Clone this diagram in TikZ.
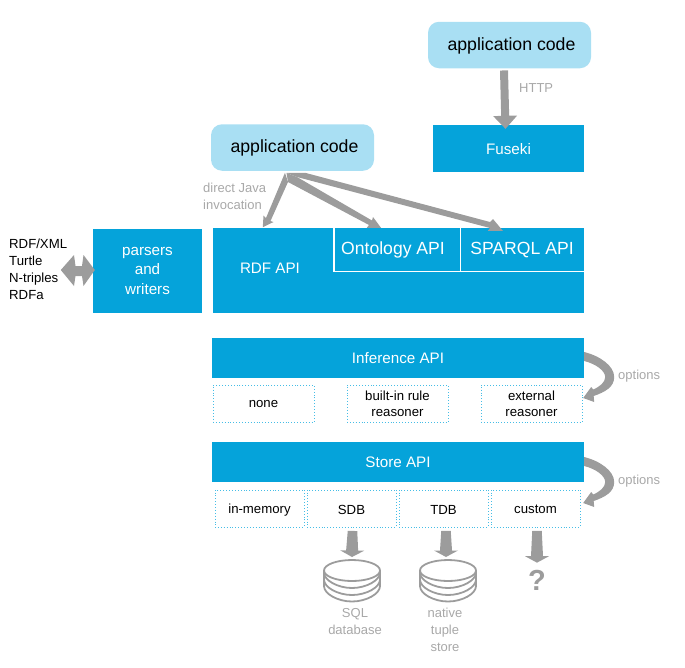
\documentclass[tikz,border=0pt]{standalone}
\usepackage{fontspec}
\setmainfont{Liberation Sans}
\usetikzlibrary{calc}
\definecolor{apiblue}{HTML}{05A3DA}
\definecolor{applight}{HTML}{A9DFF3}
\definecolor{arrowgray}{HTML}{9C9C9C}
\definecolor{labelgray}{HTML}{A8A8A8}
\definecolor{dotblue}{HTML}{45BDE6}
\newcommand{\fsz}[2]{\fontsize{#1}{#2}\selectfont}
\newcommand{\nudge}[2]{\raisebox{-#1}[\height][\depth]{#2}}
\newcommand{\lines}[1]{\begin{tabular}{@{}c@{}}#1\end{tabular}}
% start, end, start width, end width, head width, head length
\newcommand{\taperarrow}[6]{%
  \fill[arrowgray] let \p1=#1, \p2=#2, \n1={atan2(\y2-\y1,\x2-\x1)} in
    ($(\p1)+(\n1+90:#3/2*1pt)$) --
    ($(\p2)+(\n1+180:#6*1pt)+(\n1+90:#4/2*1pt)$) --
    ($(\p2)+(\n1+180:#6*1pt)+(\n1+90:#5/2*1pt)$) --
    (\p2) --
    ($(\p2)+(\n1+180:#6*1pt)+(\n1-90:#5/2*1pt)$) --
    ($(\p2)+(\n1+180:#6*1pt)+(\n1-90:#4/2*1pt)$) --
    ($(\p1)+(\n1-90:#3/2*1pt)$) -- cycle;}
% crescent "options" arrow leaving the bar and returning to the option row
\newcommand{\optarrow}[1]{%
  \begin{scope}[shift={#1}]
  \fill[arrowgray] (0,0) .. controls (16,4) and (30,14) .. (30,25)
    .. controls (30,35) and (21,40) .. (9.5,44) -- (10,50) -- (-1,46) -- (7,35) -- (9,37.5)
    .. controls (16,34.5) and (21,30) .. (21,25) .. controls (21,19) and (12,12) .. (0,9) -- cycle;
  \end{scope}}
\tikzset{
  apibox/.style={fill=apiblue,text=white,inner sep=0pt,align=center,font=\fsz{15.2}{19.5}},
  appbox/.style={fill=applight,text=black,rounded corners=11pt,inner sep=0pt,minimum width=163pt,minimum height=46.5pt,font=\fsz{17.7}{21}},
  optbox/.style={draw=dotblue,dotted,line width=0.9pt,inner sep=0pt,align=center,text=black,minimum height=37pt,font=\fsz{13.2}{16.5}},
  graylabel/.style={text=labelgray,inner sep=0pt,align=center,font=\fsz{13}{17}},
  listlabel/.style={text=black,inner sep=0pt,align=left,font=\fsz{13.2}{17}},
  disk/.style={draw=arrowgray,line width=1.8pt},
}
\begin{document}
\begin{tikzpicture}[x=1pt,y=-1pt]
\useasboundingbox (0,0) rectangle (685,667);

% boxes
\node[appbox] (appa) at (509.5,45) {\nudge{1pt}{\hspace*{4pt}application code}};
\node[appbox] (appb) at (292.5,147.5) {\nudge{0.5pt}{\hspace*{4pt}application code}};
\node[apibox,minimum width=151pt,minimum height=47pt] (fuseki) at (508.5,148.5) {\nudge{1pt}{Fuseki}};
\node[apibox,minimum width=109pt,minimum height=84pt] (parsers) at (147.5,270.5) {parsers\\and\\writers};
\node[apibox,minimum width=371pt,minimum height=85pt] (rdf) at (398.5,270.5) {};
\node[apibox,minimum width=126pt,minimum height=43pt,font=\fsz{17.6}{21}] (onto) at (397,249.5) {\hspace*{-8pt}Ontology API};
\node[apibox,minimum width=124pt,minimum height=43pt,font=\fsz{17.6}{21}] (sparql) at (522,249.5) {\nudge{1pt}{SPARQL API}};
\node[text=white,inner sep=0pt,font=\fsz{15.2}{19}] (rdflabel) at (270,268) {RDF API};
\draw[white,line width=1.4pt] (onto.north west) -- (onto.south west) -- (sparql.south east);
\draw[white,line width=1.4pt] (onto.north east) -- (onto.south east);

\node[apibox,minimum width=372pt,minimum height=40pt] (inf) at (398,358) {Inference API};
\node[optbox,minimum width=101pt] (none) at (263.5,403.5) {\nudge{1pt}{none}};
\node[optbox,minimum width=101pt] (rule) at (397.5,403.5) {\nudge{1.5pt}{\lines{built-in rule\\reasoner}}};
\node[optbox,minimum width=101pt] (ext) at (531.5,403.5) {\nudge{1.5pt}{\lines{external\\reasoner}}};

\node[apibox,minimum width=372pt,minimum height=40pt] (store) at (398,462) {Store API};
\node[optbox,minimum width=89pt] (mem) at (259.5,508.5) {\nudge{1.5pt}{in-memory}};
\node[optbox,minimum width=89pt] (sdb) at (351.5,508.5) {\nudge{1pt}{SDB}};
\node[optbox,minimum width=89pt] (tdb) at (443.5,508.5) {\nudge{1pt}{TDB}};
\node[optbox,minimum width=89pt] (custom) at (535.5,508.5) {\nudge{1pt}{custom}};

% databases
\foreach \nm/\cx in {sqldb/352,tupledb/448}{
  \coordinate (\nm) at (\cx,570.5);
  \draw[disk] (\nm) ellipse [x radius=28pt,y radius=10.5pt];
  \foreach \off in {7,14,20.5}{
    \draw[disk] ($(\nm)+(-28,\off-5)$) .. controls ($(\nm)+(-28,\off+3)$) and ($(\nm)+(-14,\off+10.5)$) .. ($(\nm)+(0,\off+10.5)$)
      .. controls ($(\nm)+(14,\off+10.5)$) and ($(\nm)+(28,\off+3)$) .. ($(\nm)+(28,\off-5)$);
  }
  \draw[disk] ($(\nm)+(-28,0)$) -- ($(\nm)+(-28,16)$);
  \draw[disk] ($(\nm)+(28,0)$) -- ($(\nm)+(28,16)$);
}

% labels
\node[graylabel,anchor=west] (http) at (519,88.5) {HTTP};
\node[graylabel,align=left,anchor=north west] (java) at (203,183) {direct Java\\invocation};
\node[listlabel,anchor=north west] (formats) at (9,239) {RDF/XML\\Turtle\\N-triples\\RDFa};
\node[graylabel,anchor=west] (optinf) at (618,376.5) {options};
\node[graylabel,anchor=west] (optstore) at (618,481) {options};
\node[graylabel,anchor=north] (sqllabel) at (355,608) {SQL\\database};
\node[graylabel,anchor=north] (tuplelabel) at (445,608) {native\\tuple\\store};
\node[text=arrowgray,inner sep=0pt,font=\bfseries\fsz{29}{29}] (unknown) at (537,580) {?};

% arrows
\taperarrow{($(appa.south)+(-5.5,2)$)}{($(fuseki.north)+(-3,4)$)}{8}{8}{24}{13}
% fan from the second application box to the three APIs
\fill[arrowgray] ($(appb.south)+(-7.5,1.8)$) -- (288,182) -- (270.5,221) -- (273.5,222)
  -- ($(rdf.north west)+(50,-0.5)$) -- (263.5,215.5) -- (266,218) -- cycle;
\fill[arrowgray] ($(appb.south)+(-6,2)$) -- (297,177) -- (372,220.5) -- (373,217)
  -- (onto.north west -| 381,0) -- ($(onto.north west)+(33,0)$) -- (369,225) -- (288,182) -- cycle;
\fill[arrowgray] ($(appb.south)+(-6,2)$) -- ($(appb.south)+(12.5,1.8)$) -- (490,222) -- (493,219)
  -- ($(sparql.north west)+(43,3)$) -- ($(sparql.north west)+(28,3)$) -- (490,228) -- (297,177) -- cycle;
\taperarrow{($(sdb.south)+(1,3.5)$)}{(sqldb |- 0,557)}{9.5}{12}{24}{6.5}
\taperarrow{($(tdb.south)+(2.5,3.5)$)}{($(tupledb)+(-2,-13.5)$)}{9.5}{12}{24}{6.5}
\taperarrow{($(custom.south)+(1.5,3.5)$)}{($(unknown.north)+(0,-7)$)}{9.5}{12}{24}{6.5}
% two-way arrow
\fill[arrowgray] ($(parsers.west)+(-32,-0.5)$) -- (74,255) -- (75.5,266) -- (82,266) -- (83.5,255)
  -- ($(parsers.west)+(2,-0.5)$) -- (83.5,286) -- (82,276) -- (75.5,276) -- (74,286) -- cycle;
\optarrow{(inf.east |- 0,352)}
\optarrow{(store.east |- 0,457)}
\end{tikzpicture}
\end{document}
